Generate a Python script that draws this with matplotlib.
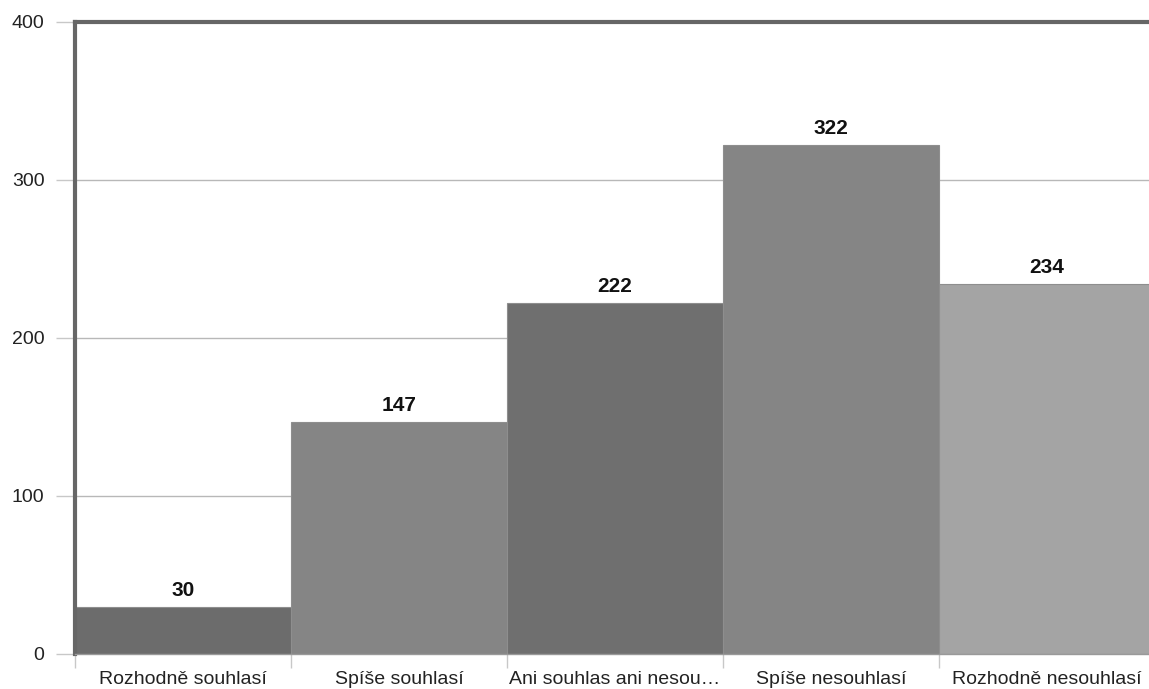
import numpy as np
import matplotlib
matplotlib.use("Agg")
import matplotlib.pyplot as plt

plt.rcParams['font.family'] = ['Liberation Sans', 'DejaVu Sans']

categories = ['Rozhodně souhlasí', 'Spíše souhlasí', 'Ani souhlas ani nesou…',
              'Spíše nesouhlasí', 'Rozhodně nesouhlasí']
counts = [30, 147, 222, 322, 234]
bar_colors = ['#6c6c6c', '#858585', '#6f6f6f', '#858585', '#a4a4a4']
yticks = [0, 100, 200, 300, 400]

W, H = 1149, 689
fig = plt.figure(figsize=(W / 100, H / 100), dpi=100)
# axes run a little past the right edge of the picture, like the original
left, right, top, bottom = 75, 1155, 22, 654
ax = fig.add_axes([left / W, 1 - bottom / H, (right - left) / W, (bottom - top) / H])

x = np.arange(len(categories))
bars = ax.bar(x, counts, width=1.0, color=bar_colors, edgecolor='#8e8e8e',
              linewidth=0.8, zorder=2)

for b, v in zip(bars, counts):
    ax.annotate(str(v), (b.get_x() + b.get_width() / 2, v), xytext=(0, 5),
                textcoords='offset points', ha='center', va='bottom',
                fontsize=15, fontweight='bold', color='#111111')

ax.set_xlim(-0.5, len(categories) - 0.5)
ax.set_ylim(0, 400)

ax.set_yticks(yticks)
ax.yaxis.grid(True, color='#b8b8b8', linewidth=1, zorder=0)
ax.tick_params(axis='y', length=14, color='#c8c8c8', width=1, pad=8,
               labelsize=14, labelcolor='#222222')

ax.set_xticks(x)
ax.set_xticklabels(categories)
ax.set_xticks(np.arange(len(categories) + 1) - 0.5, minor=True)
ax.tick_params(axis='x', which='major', length=0, pad=12, labelsize=14,
               labelcolor='#222222')
ax.tick_params(axis='x', which='minor', length=10, color='#c8c8c8', width=1)

for side in ['left', 'top']:
    ax.spines[side].set_color('#666666')
    ax.spines[side].set_linewidth(3)
ax.spines['bottom'].set_color('#999999')
ax.spines['bottom'].set_linewidth(1)
ax.spines['right'].set_visible(False)

fig.savefig('out.png', dpi=100)
